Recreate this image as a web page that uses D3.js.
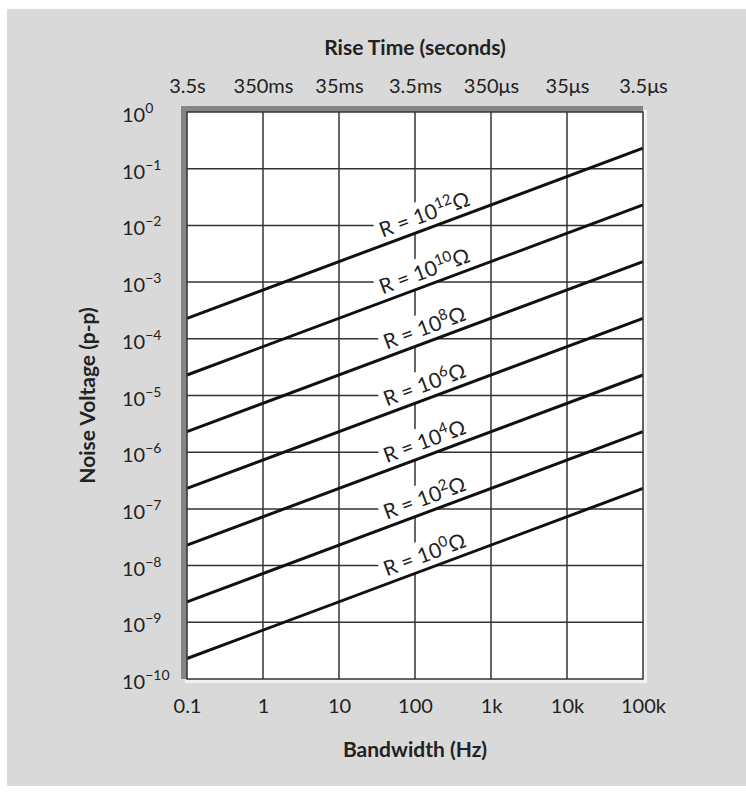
<!DOCTYPE html>
<html>
<head>
<meta charset="utf-8">
<script src="https://cdn.jsdelivr.net/npm/d3@7"></script>
<style>
  body { margin: 0; background: #fff; }
  text { font-family: Lato, "Open Sans", sans-serif; fill: #222; }
</style>
</head>
<body>
<div id="chart"></div>
<script>
// data
var bandwidthTicks = [0.1, 1, 10, 100, 1000, 10000, 100000];
var bandwidthLabels = ["0.1", "1", "10", "100", "1k", "10k", "100k"];
var riseTimeLabels = ["3.5s", "350ms", "35ms", "3.5ms", "350\u03bcs", "35\u03bcs", "3.5\u03bcs"];
var voltageExponents = [0, -1, -2, -3, -4, -5, -6, -7, -8, -9, -10];

var resistorExponents = [12, 10, 8, 6, 4, 2, 0];
var noiseAtLowBW  = [2.3e-4, 2.3e-5, 2.3e-6, 2.3e-7, 2.3e-8, 2.3e-9, 2.3e-10]; // at 0.1 Hz
var noiseAtHighBW = [2.3e-1, 2.3e-2, 2.3e-3, 2.3e-4, 2.3e-5, 2.3e-6, 2.3e-7]; // at 100 kHz
var bwRange = [0.1, 100000];
var labelBW = 155; // where the R labels sit

// dimensions
var svgWidth = 746, svgHeight = 794;
var margin = { top: 112, right: 103, bottom: 115, left: 187 };
var width = svgWidth - margin.left - margin.right;
var height = svgHeight - margin.top - margin.bottom;

var svg = d3.select("#chart")
    .append("svg")
        .attr("width", svgWidth)
        .attr("height", svgHeight);

// gray panel
svg.append("rect")
    .attr("x", 7).attr("y", 9)
    .attr("width", svgWidth - 7).attr("height", 777)
    .attr("fill", "#d9d9d9");

var g = svg.append("g")
    .attr("transform", `translate(${margin.left}, ${margin.top})`);

var x = d3.scaleLog().domain(bwRange).range([0, width]);
var y = d3.scaleLog().domain([1, 1e-10]).range([0, height]);

// bevel around the plot
g.append("rect")
    .attr("x", -2).attr("y", -2)
    .attr("width", width + 6).attr("height", height + 6)
    .attr("fill", "#f2f2f2");
g.append("rect")
    .attr("x", -6).attr("y", -6)
    .attr("width", width + 6).attr("height", height + 6)
    .attr("fill", "#858585");
g.append("rect")
    .attr("x", 0).attr("y", 0)
    .attr("width", width).attr("height", height)
    .attr("fill", "#fff");

// grid
g.selectAll(".vgrid")
    .data(bandwidthTicks.slice(1, -1))
    .enter().append("line")
        .attr("class", "vgrid")
        .attr("x1", d => x(d)).attr("x2", d => x(d))
        .attr("y1", 0).attr("y2", height)
        .attr("stroke", "#333").attr("stroke-width", 1.5);

g.selectAll(".hgrid")
    .data(voltageExponents.slice(1, -1))
    .enter().append("line")
        .attr("class", "hgrid")
        .attr("x1", 0).attr("x2", width)
        .attr("y1", d => y(Math.pow(10, d))).attr("y2", d => y(Math.pow(10, d)))
        .attr("stroke", "#333").attr("stroke-width", 1.5);

// line labels, with white box knocking out the grid down to the line
var slopeAngle = Math.atan2(y(noiseAtHighBW[0]) - y(noiseAtLowBW[0]), width) * 180 / Math.PI;

resistorExponents.forEach(function(r, i) {
    // line is straight on log-log, so interpolate in log space
    var t = Math.log10(labelBW / bwRange[0]) / Math.log10(bwRange[1] / bwRange[0]);
    var v = Math.pow(10, Math.log10(noiseAtLowBW[i]) + t * (Math.log10(noiseAtHighBW[i]) - Math.log10(noiseAtLowBW[i])));
    var lg = g.append("g")
        .attr("transform", `translate(${x(labelBW)}, ${y(v)}) rotate(${slopeAngle})`);
    var box = lg.append("rect").attr("fill", "#fff");
    var txt = lg.append("text")
        .attr("y", -7)
        .attr("text-anchor", "middle")
        .style("font-size", "21px");
    txt.append("tspan").text("R = 10");
    txt.append("tspan").attr("dy", -8).style("font-size", "15px").text(r);
    txt.append("tspan").attr("dy", 8).text("\u03a9");
    var bb = txt.node().getBBox();
    box.attr("x", bb.x - 4).attr("y", bb.y + 1)
       .attr("width", bb.width + 8).attr("height", -bb.y - 1);
});

// noise lines
var line = d3.line()
    .x(d => x(d.bw))
    .y(d => y(d.v));

resistorExponents.forEach(function(r, i) {
    g.append("path")
        .datum([{ bw: bwRange[0], v: noiseAtLowBW[i] }, { bw: bwRange[1], v: noiseAtHighBW[i] }])
        .attr("d", line)
        .attr("fill", "none")
        .attr("stroke", "#111")
        .attr("stroke-width", 3);
});

// frame
g.append("rect")
    .attr("x", 0).attr("y", 0)
    .attr("width", width).attr("height", height)
    .attr("fill", "none")
    .attr("stroke", "#333").attr("stroke-width", 1.5);

// bottom axis
var xAxis = d3.axisBottom(x)
    .tickValues(bandwidthTicks)
    .tickFormat((d, i) => bandwidthLabels[i])
    .tickSize(0)
    .tickPadding(20);
var xAx = g.append("g")
    .attr("transform", `translate(0, ${height})`)
    .call(xAxis);
xAx.select(".domain").remove();
xAx.selectAll("text")
    .style("font-size", "20px").style("font-family", "Lato, sans-serif").attr("fill", "#222");

// top axis (rise time)
var topAxis = d3.axisTop(x)
    .tickValues(bandwidthTicks)
    .tickFormat((d, i) => riseTimeLabels[i])
    .tickSize(0)
    .tickPadding(19);
var tAx = g.append("g").call(topAxis);
tAx.select(".domain").remove();
tAx.selectAll("text")
    .style("font-size", "20px").style("font-family", "Lato, sans-serif").attr("fill", "#222");

// left labels with superscripts
var yLab = g.selectAll(".ylab")
    .data(voltageExponents)
    .enter().append("text")
        .attr("class", "ylab")
        .attr("x", -65)
        .attr("y", d => y(Math.pow(10, d)) + 10)
        .style("font-size", "20px");
yLab.append("tspan").text("10");
yLab.append("tspan")
    .attr("dy", -9)
    .style("font-size", "14px")
    .text(d => d === 0 ? "0" : "\u2212" + (-d));

// titles
svg.append("text")
    .attr("x", margin.left + width / 2).attr("y", 55)
    .attr("text-anchor", "middle")
    .style("font-size", "21px").style("font-weight", "bold")
    .text("Rise Time (seconds)");

svg.append("text")
    .attr("x", margin.left + width / 2).attr("y", 757)
    .attr("text-anchor", "middle")
    .style("font-size", "21px").style("font-weight", "bold")
    .text("Bandwidth (Hz)");

svg.append("text")
    .attr("transform", `translate(95, ${margin.top + height / 2}) rotate(-90)`)
    .attr("text-anchor", "middle")
    .style("font-size", "21px").style("font-weight", "bold")
    .text("Noise Voltage (p-p)");
</script>
</body>
</html>
